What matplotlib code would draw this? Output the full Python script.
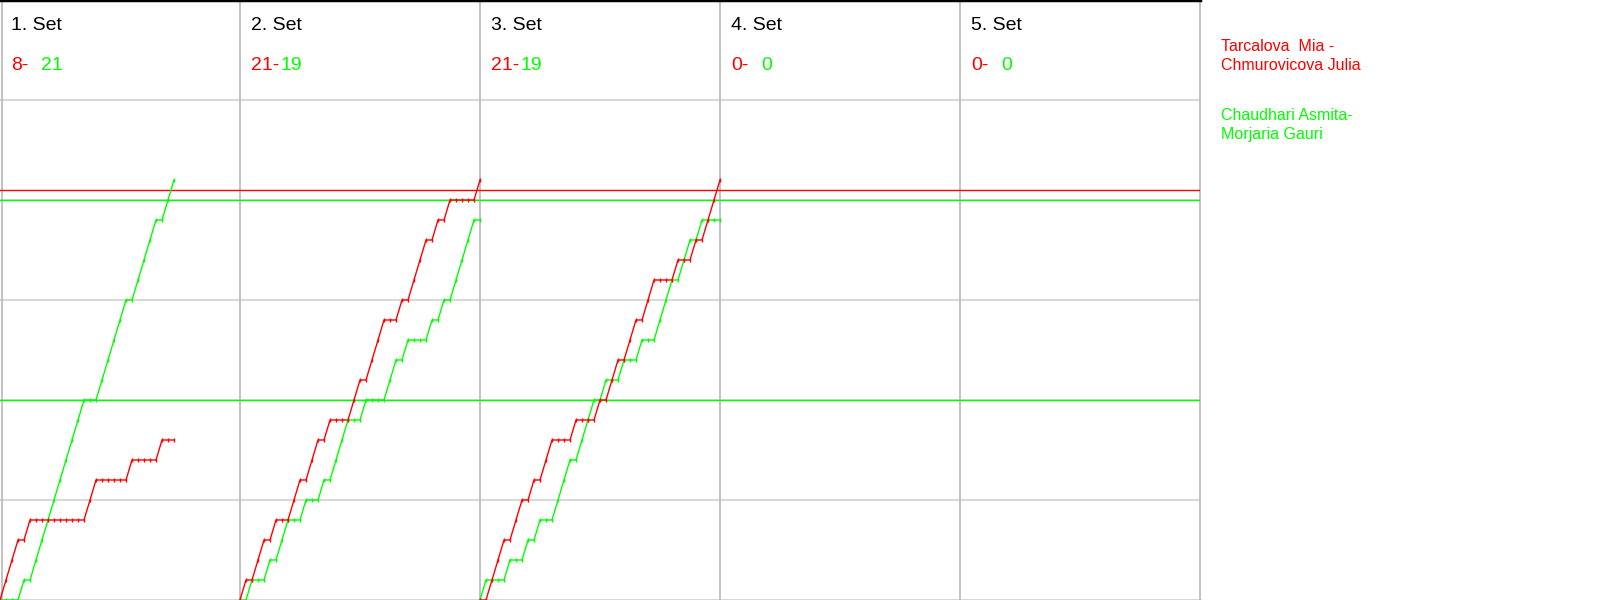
import numpy as np
import matplotlib
matplotlib.use('Agg')
import matplotlib.pyplot as plt

plt.rcParams['font.family'] = ['Liberation Sans', 'DejaVu Sans']

# final score of every set (red team first)
set_names = ['1. Set', '2. Set', '3. Set', '4. Set', '5. Set']
red_final = [8, 21, 21, 0, 0]
green_final = [21, 19, 19, 0, 0]

# rally numbers won by the red team in each played set (the rest went to green)
set1_red_won = [1, 2, 3, 5, 15, 16, 22, 27]
set2_red_won = [1, 3, 4, 6, 9, 10, 12, 13, 15, 19, 20, 22, 23, 24, 27, 29, 30, 31, 33, 35, 40]
set3_red_won = [2, 3, 4, 6, 7, 9, 11, 12, 16, 20, 22, 23, 25, 26, 28, 29, 33, 36, 38, 39, 40]
red_won = [set1_red_won, set2_red_won, set3_red_won, [], []]

red_team = ['Tarcalova  Mia -', 'Chmurovicova Julia']
green_team = ['Chaudhari Asmita-', 'Morjaria Gauri']

RED = '#ff0000'
GREEN = '#00ff00'
W, H = 1600, 600
SET_W = 40  # rallies per set column

fig = plt.figure(figsize=(16, 6), dpi=100)
ax = fig.add_axes([0, 0, 1200 / W, 1])
ax.set_xlim(0, 5 * SET_W)
ax.set_ylim(0, 30)
ax.axis('off')


def ftext(x, y, s, **kw):
    # place text in pixel coords (from top-left)
    fig.text(x / W, 1 - y / H, s, va='baseline', ha='left', **kw)


# grid
for yv in [5, 10, 15, 20, 25]:
    ax.axhline(yv, color='#d2d2d2', lw=1.2, zorder=1)
ax.axhline(0, color='#d2d2d2', lw=2, zorder=1, clip_on=False)
for i in range(6):
    xv = i * SET_W if i > 0 else 0.35
    ax.axvline(xv, color='#b8b8b8', lw=1.2, zorder=1, clip_on=False)
ax.axhline(30, color='black', lw=2.5, zorder=1, clip_on=False)

# reference lines
ax.axhline(20.5, color=RED, lw=1.0, zorder=2)
ax.axhline(20, color=GREEN, lw=1.0, zorder=2)
ax.axhline(10, color=GREEN, lw=1.0, zorder=2)

for i in range(5):
    n = red_final[i] + green_final[i]
    if n > 0:
        wins = np.zeros(n + 1)
        wins[red_won[i]] = 1
        red_score = np.cumsum(wins)
        green_score = np.arange(n + 1) - red_score
        xs = i * SET_W + np.arange(n + 1)
        ax.plot(xs, green_score, color=GREEN, lw=1.0, marker='|', ms=3, mew=1, zorder=3)
        ax.plot(xs, red_score, color=RED, lw=1.0, marker='|', ms=3, mew=1, zorder=4)

    x0 = i * 240 + 11
    ftext(x0, 30, set_names[i], color='black', fontsize=14)
    ftext(x0, 70, '%d-' % red_final[i], color=RED, fontsize=14)
    ftext(x0 + 30, 70, '%d' % green_final[i], color=GREEN, fontsize=14)

ftext(1221, 51, red_team[0], color=RED, fontsize=11.5)
ftext(1221, 70, red_team[1], color=RED, fontsize=11.5)
ftext(1221, 120, green_team[0], color=GREEN, fontsize=11.5)
ftext(1221, 139, green_team[1], color=GREEN, fontsize=11.5)

fig.savefig('out.png', dpi=100, facecolor='white')
